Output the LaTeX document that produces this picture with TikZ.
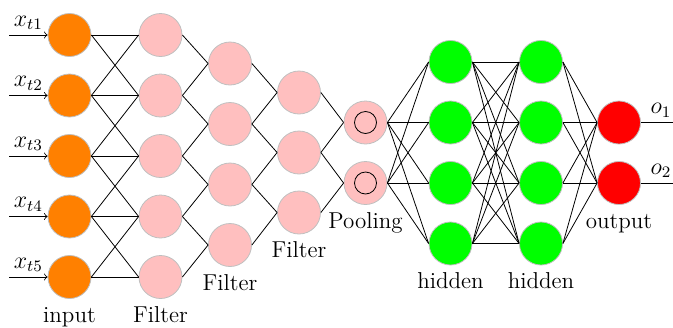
\documentclass[tikz,border=0pt]{standalone}
\usetikzlibrary{calc}
\begin{document}
\begin{tikzpicture}[x=0.5pt,y=-0.5pt,
  every node/.style={font=\fontsize{11.5pt}{14pt}\selectfont},
  neuron/.style={circle,draw=black!25,minimum size=21.5pt,inner sep=0pt},
  inneuron/.style={neuron,fill=orange},
  filterneuron/.style={neuron,fill=pink},
  hiddenneuron/.style={neuron,fill=green},
  outneuron/.style={neuron,fill=red},
  lbl/.style={anchor=base,inner sep=0pt},
  conn/.style={draw=black}]
\useasboundingbox (0,0) rectangle (673,327);

% input layer and its arrows
\foreach \i in {1,...,5} {
  \node[inneuron] (I\i) at (69.5,{35+60.5*(\i-1)}) {};
  \coordinate (S\i) at (9,{35+60.5*(\i-1)});
  \draw[->] (S\i) -- node[above,midway,inner sep=2.5pt] {$x_{t\i}$} (I\i.west);
}
% first filter layer
\foreach \i in {1,...,5}
  \node[filterneuron] (A\i) at (160.5,{35+60.5*(\i-1)}) {};
% second filter layer
\foreach \i in {1,...,4}
  \node[filterneuron] (B\i) at (230,{63.5+60.5*(\i-1)}) {};
% third filter layer
\foreach \i in {1,...,3}
  \node[filterneuron] (C\i) at (299,{92.5+60*(\i-1)}) {};
% pooling layer
\foreach \i in {1,2} {
  \node[filterneuron] (P\i) at (365.5,{122.5+60.5*(\i-1)}) {};
  \node[circle,draw=black,minimum size=11pt,inner sep=0pt] (Q\i) at (P\i) {};
}
% hidden layers
\foreach \i in {1,...,4} {
  \node[hiddenneuron] (H\i) at (450.5,{62+60.5*(\i-1)}) {};
  \node[hiddenneuron] (G\i) at (541,{62+60.5*(\i-1)}) {};
}
% output layer
\foreach \i in {1,2} {
  \node[outneuron] (O\i) at (619,{122.5+60.5*(\i-1)}) {};
  \coordinate (E\i) at (673,{122.5+60.5*(\i-1)});
  \draw (O\i.east) -- node[above,midway,inner sep=2.5pt,xshift=2pt] {$o_\i$} (E\i);
}

% input -> first filter (neighbours)
\foreach \i in {1,...,5}
  \foreach \j in {1,...,5} {
    \pgfmathtruncatemacro{\d}{abs(\i-\j)}
    \ifnum\d<2 \draw[conn] (I\i.east) -- (A\j.west); \fi
  }
% first filter -> second filter
\foreach \j in {1,...,4} {
  \pgfmathtruncatemacro{\k}{\j+1}
  \draw[conn] (A\j.east) -- (B\j.west);
  \draw[conn] (A\k.east) -- (B\j.west);
}
% second filter -> third filter
\foreach \j in {1,...,3} {
  \pgfmathtruncatemacro{\k}{\j+1}
  \draw[conn] (B\j.east) -- (C\j.west);
  \draw[conn] (B\k.east) -- (C\j.west);
}
% third filter -> pooling
\foreach \j in {1,2} {
  \pgfmathtruncatemacro{\k}{\j+1}
  \draw[conn] (C\j.east) -- (P\j.west);
  \draw[conn] (C\k.east) -- (P\j.west);
}
% pooling -> hidden, hidden -> hidden, hidden -> output
\foreach \i in {1,2}
  \foreach \j in {1,...,4}
    \draw[conn] (P\i.east) -- (H\j.west);
\foreach \i in {1,...,4}
  \foreach \j in {1,...,4}
    \draw[conn] (H\i.east) -- (G\j.west);
\foreach \i in {1,...,4}
  \foreach \j in {1,2}
    \draw[conn] (G\i.east) -- (O\j.west);

% layer captions
\node[lbl] (Lin) at ($(I5)+(0,45)$) {input};
\node[lbl] (LA) at ($(A5)+(0,45)$) {Filter};
\node[lbl] (LB) at ($(B4)+(0,45)$) {Filter};
\node[lbl] (LC) at ($(C3)+(0,45)$) {Filter};
\node[lbl] (LP) at ($(P2)+(0,45)$) {Pooling};
\node[lbl] (LH) at ($(H4)+(0,45)$) {hidden};
\node[lbl] (LG) at ($(G4)+(0,45)$) {hidden};
\node[lbl] (LO) at ($(O2)+(0,45)$) {output};
\end{tikzpicture}
\end{document}
